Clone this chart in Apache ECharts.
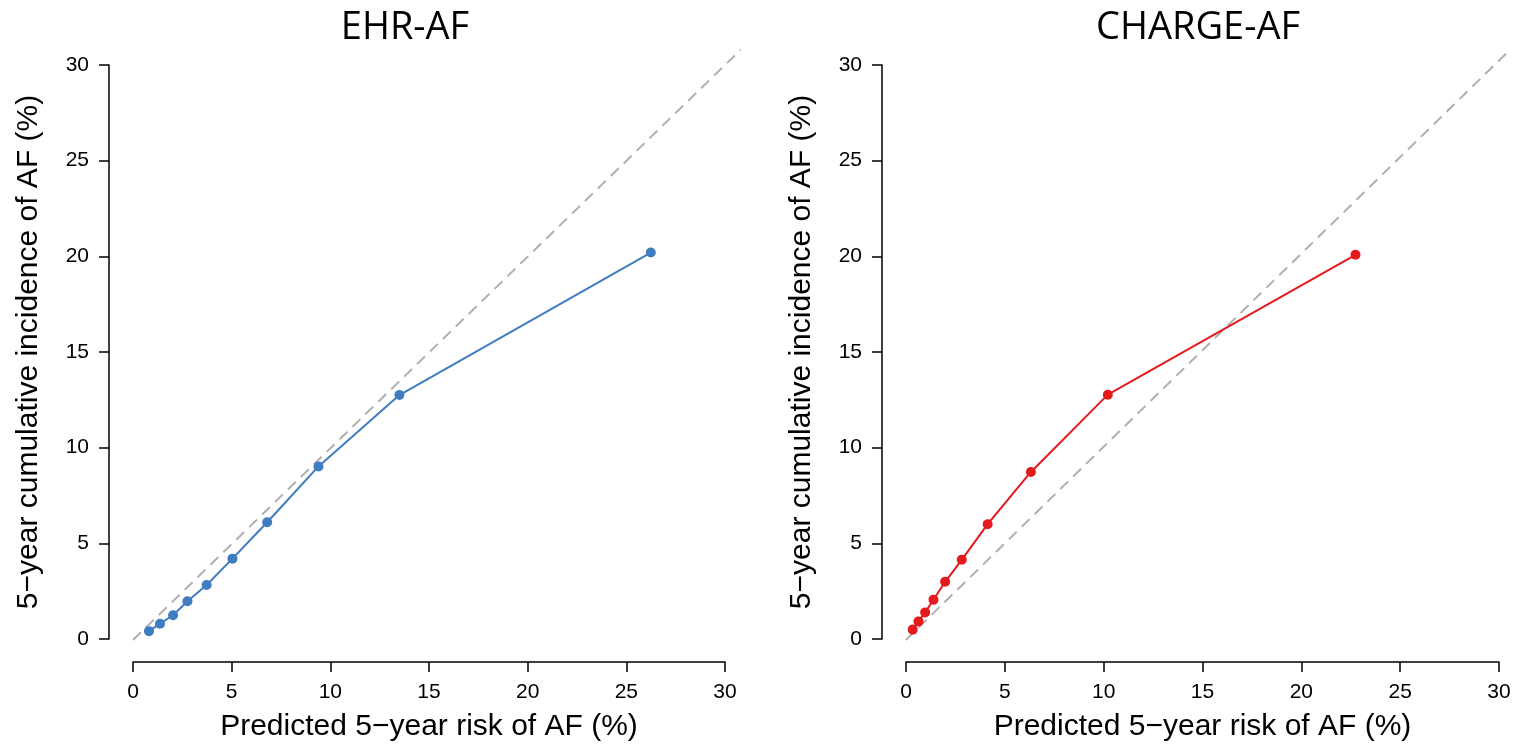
<!DOCTYPE html>
<html>
<head>
<meta charset="utf-8">
<script src="https://cdn.jsdelivr.net/npm/echarts@6/dist/echarts.min.js"></script>
<style>
html,body{margin:0;padding:0;background:#fff;}
#chart{width:1518px;height:747px;}
</style>
</head>
<body>
<div id="chart"></div>
<script>
// Data
const panelTitles = ['EHR-AF', 'CHARGE-AF'];
const xAxisTitle = 'Predicted 5\u2212year risk of AF (%)';
const yAxisTitle = '5\u2212year cumulative incidence of AF (%)';
const ehrPredicted = [0.81, 1.37, 2.03, 2.76, 3.73, 5.04, 6.8, 9.4, 13.5, 26.24];
const ehrObserved  = [0.41, 0.80, 1.24, 1.97, 2.82, 4.20, 6.1, 9.02, 12.75, 20.2];
const chargePredicted = [0.34, 0.63, 0.97, 1.39, 1.98, 2.82, 4.13, 6.32, 10.21, 22.74];
const chargeObserved  = [0.49, 0.92, 1.39, 2.05, 2.99, 4.14, 6.0, 8.73, 12.77, 20.08];
const identityLine = [[0, 0], [30.8, 30.8]];
const axisMin = 0, axisMax = 30, axisStep = 5;
const plotMin = -1.2, plotMax = 31.2;

const blue = '#3f7cc0';
const red = '#e41a1c';
const axisFont = 'Liberation Sans, Arial, Helvetica, sans-serif';

const chart = echarts.init(document.getElementById('chart'), null, {renderer: 'canvas'});

// visible panel geometry
const panels = [
  {left: 133, top: 65, width: 592, height: 575},
  {left: 906, top: 65, width: 593, height: 575}
];
// extended (plot-region) grids for the reference diagonal
const extGrids = panels.map(p => {
  const sx = p.width / (axisMax - axisMin), sy = p.height / (axisMax - axisMin);
  return {
    left: p.left - (axisMin - plotMin) * sx,
    width: (plotMax - plotMin) * sx,
    top: p.top - (plotMax - axisMax) * sy,
    height: (plotMax - plotMin) * sy
  };
});

function mkX(gi) {
  return {
    type: 'value', gridIndex: gi, min: axisMin, max: axisMax, interval: axisStep,
    offset: 23,
    axisLine: {show: true, onZero: false, lineStyle: {color: '#000', width: 1.5}},
    axisTick: {show: true, length: 10, lineStyle: {color: '#000', width: 1.5}},
    axisLabel: {color: '#000', fontSize: 21, fontFamily: axisFont, margin: 20},
    splitLine: {show: false},
    name: xAxisTitle, nameLocation: 'middle', nameGap: 50,
    nameTextStyle: {color: '#000', fontSize: 30, fontFamily: axisFont}
  };
}
function mkY(gi) {
  return {
    type: 'value', gridIndex: gi, min: axisMin, max: axisMax, interval: axisStep,
    offset: 24,
    axisLine: {show: true, onZero: false, lineStyle: {color: '#000', width: 1.5}},
    axisTick: {show: true, length: 10, lineStyle: {color: '#000', width: 1.5}},
    axisLabel: {color: '#000', fontSize: 21, fontFamily: axisFont, margin: 20},
    splitLine: {show: false},
    name: yAxisTitle, nameLocation: 'middle', nameGap: 65,
    nameTextStyle: {color: '#000', fontSize: 30, fontFamily: axisFont}
  };
}
function hiddenAxis(gi) {
  return {type: 'value', gridIndex: gi, min: plotMin, max: plotMax, show: false, splitLine: {show: false}};
}
function dashed(gi) {
  return {
    type: 'line', xAxisIndex: gi, yAxisIndex: gi, data: identityLine,
    symbol: 'none', silent: true, z: 1,
    lineStyle: {color: '#b0b0b0', width: 2, type: [11, 7]}
  };
}
function curve(gi, xs, ys, color) {
  return {
    type: 'line', xAxisIndex: gi, yAxisIndex: gi,
    data: xs.map((x, i) => [x, ys[i]]),
    symbol: 'circle', symbolSize: 10, z: 3,
    itemStyle: {color: color},
    lineStyle: {color: color, width: 2}
  };
}

chart.setOption({
  backgroundColor: '#fff',
  animation: false,
  title: [
    {text: panelTitles[0], left: 400, top: 4, textAlign: 'center',
     textStyle: {fontSize: 38, fontWeight: 'normal', color: '#000', fontFamily: 'Open Sans, sans-serif'}},
    {text: panelTitles[1], left: 1193, top: 4, textAlign: 'center',
     textStyle: {fontSize: 38, fontWeight: 'normal', color: '#000', fontFamily: 'Open Sans, sans-serif'}}
  ],
  grid: [panels[0], panels[1], extGrids[0], extGrids[1]],
  xAxis: [mkX(0), mkX(1), hiddenAxis(2), hiddenAxis(3)],
  yAxis: [mkY(0), mkY(1), hiddenAxis(2), hiddenAxis(3)],
  series: [
    dashed(2), curve(0, ehrPredicted, ehrObserved, blue),
    dashed(3), curve(1, chargePredicted, chargeObserved, red)
  ]
});
</script>
</body>
</html>
